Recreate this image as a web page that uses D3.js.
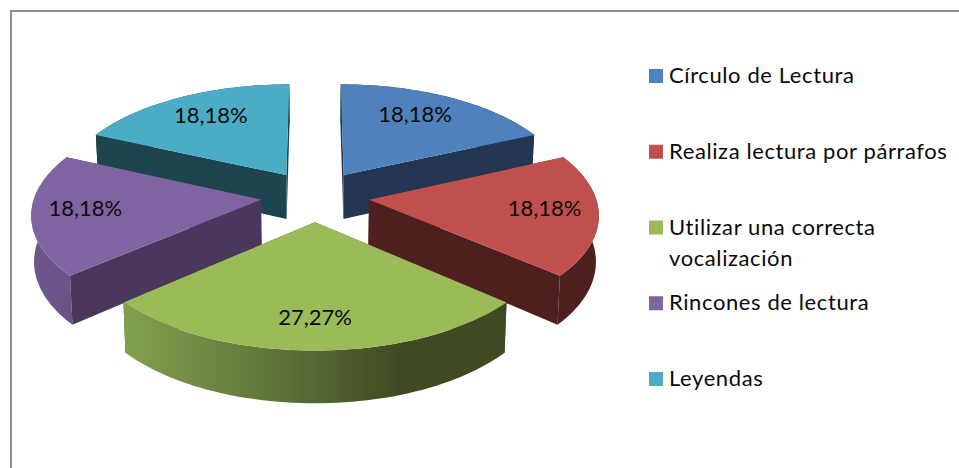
<!DOCTYPE html>
<html><head><meta charset="utf-8">
<script src="https://cdn.jsdelivr.net/npm/d3@7"></script>
<style>html,body{margin:0;padding:0;background:#fff}svg{display:block}text{font-family:Lato,"Open Sans",sans-serif;fill:#0a0a0a}</style>
</head><body><svg id="c" width="959" height="468"></svg>
<script>
const categories = ["Círculo de Lectura","Realiza lectura por párrafos","Utilizar una correcta\nvocalización","Rincones de lectura","Leyendas"];
const percents = [18.18,18.18,27.27,18.18,18.18];
const topColors = ["#4f81bd","#c0504d","#9bbb59","#8064a2","#4bacc6"];
const wallColors = ["#233755","#4d1f1f","#3f4a22","#4a385c","#1e4450"];
const rimColors = ["#233755","#4d1f1f","url(#greenRim)","url(#purpleRim)","#1e4450"];

const svg = d3.select("#c");
const W=959,H=468;
svg.append("path").attr("d",`M11,${H}V11H${W}`).attr("fill","none").attr("stroke","#8e8e8e").attr("stroke-width",2);

const defs=svg.append("defs");
function grad(id,stops){const g=defs.append("linearGradient").attr("id",id);
  stops.forEach(s=>g.append("stop").attr("offset",s[0]).attr("stop-color",s[1]));}
grad("greenRim",[[0,"#83a04f"],[0.4,"#60743a"],[0.72,"#3f4a22"],[1,"#3f4a22"]]);
grad("purpleRim",[[0,"#6f578d"],[1,"#6a5386"]]);

// perspective model of the exploded pie
const cx=315,cy=196,R=4.5,explode=1.08,persp=0.0265,ax=50.3,by=23.6,wall=45,shrink=0.99;
function project(X,Y,bottom){
  const w=1-persp*Y;
  const sx=ax*X/w*(bottom?shrink:1);
  const sy=by*Y/w+(bottom?wall/w:0);
  return [cx+sx,cy+sy];
}
const pie=d3.pie().sort(null).value(d=>d.v);
const arcs=pie(percents.map((v,i)=>({v,i})));
const line=d3.line();
arcs.forEach(a=>{
  const i=a.data.i, mid=(a.startAngle+a.endAngle)/2;
  const ox=explode*Math.sin(mid), oy=-explode*Math.cos(mid);
  const rimPt=(t,r=R)=>[ox+r*Math.sin(t),oy-r*Math.cos(t)];
  a.ox=ox;a.oy=oy;a.rimPt=rimPt;a.mid=mid;
  const ts=d3.range(0,61).map(k=>a.startAngle+(a.endAngle-a.startAngle)*k/60);
  a.top=[[ox,oy],...ts.map(t=>rimPt(t))].map(p=>project(p[0],p[1],false));
  const rimTop=ts.map(t=>{const p=rimPt(t);return project(p[0],p[1],false)});
  const rimBot=ts.map(t=>{const p=rimPt(t);return project(p[0],p[1],true)});
  const apexT=project(ox,oy,false),apexB=project(ox,oy,true);
  a.faces=[
    {pts:[...rimTop,...rimBot.slice().reverse()],fill:rimColors[i]},
    {pts:[apexT,rimTop[0],rimBot[0],apexB],fill:wallColors[i]},
    {pts:[apexT,rimTop[60],rimBot[60],apexB],fill:wallColors[i]}
  ].sort((p,q)=>d3.mean(p.pts,d=>d[1])-d3.mean(q.pts,d=>d[1]));
});
const order=arcs.slice().sort((p,q)=>project(p.ox,p.oy)[1]-project(q.ox,q.oy)[1]);
const g=svg.append("g");
order.forEach(a=>{
  const s=g.append("g");
  a.faces.forEach(f=>s.append("path").attr("d",line(f.pts)+"Z").attr("fill",f.fill));
  s.append("path").attr("d",line(a.top)+"Z").attr("fill",topColors[a.data.i]);
});
// data labels: radial fraction and angular nudge (degrees) per slice
const fmt=d3.formatLocale({decimal:",",thousands:".",grouping:[3],currency:["",""]}).format(".2f");
const labelPlace=[[.725,-3.3],[.767,-1.7],[.773,0],[.767,1.7],[.734,1.9]];
arcs.forEach(a=>{
  const [f,n]=labelPlace[a.data.i];
  const p=a.rimPt(a.mid+n*Math.PI/180,R*f), s=project(p[0],p[1],false);
  svg.append("text").attr("x",s[0]).attr("y",s[1]+7).attr("text-anchor","middle").attr("font-size",22).text(fmt(a.data.v)+"%");
});
// legend
const legendY=d3.scaleLinear().domain([0,categories.length-1]).range([69,372]);
categories.forEach((c,i)=>{
  const y=legendY(i);
  svg.append("rect").attr("x",649).attr("y",y).attr("width",14).attr("height",14).attr("fill",topColors[i]);
  c.split("\n").forEach((t,k)=>svg.append("text").attr("x",669).attr("y",y+14+k*31).attr("font-size",22).attr("letter-spacing",0.6).text(t));
});
</script></body></html>
